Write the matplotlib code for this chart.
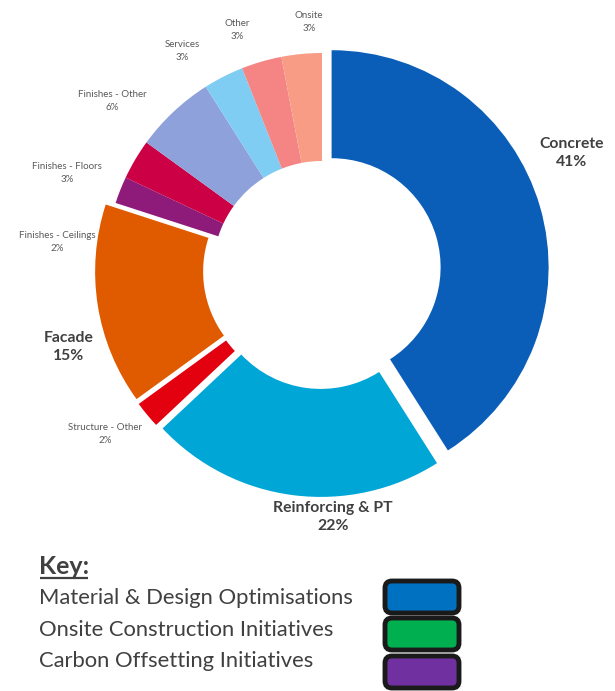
import matplotlib
matplotlib.use("Agg")
import matplotlib.pyplot as plt
from matplotlib.patches import FancyBboxPatch

# ---------------- data ----------------
categories = ["Concrete", "Reinforcing & PT", "Structure - Other", "Facade",
              "Finishes - Ceilings", "Finishes - Floors", "Finishes - Other",
              "Services", "Other", "Onsite"]
values = [41, 22, 2, 15, 2, 3, 6, 3, 3, 3]

key_labels = ["Material & Design Optimisations",
              "Onsite Construction Initiatives",
              "Carbon Offsetting Initiatives"]

# ---------------- styles / layout ----------------
colors = ["#0A5EB8", "#00A6D6", "#E3000F", "#E05A00", "#8E1A7A",
          "#CC0044", "#8EA1DA", "#7FCDF2", "#F58585", "#F99C86"]
exploded = [True, True, True, True, False, False, False, False, False, False]
major = [True, True, False, True, False, False, False, False, False, False]
# label centres in pixel coordinates (x, y from top)
label_pos = [(572, 153), (333, 517), (105, 434), (69, 347), (57, 242),
             (67, 173), (112, 101), (182, 51), (237, 30), (309, 22)]
key_colors = ["#0070C0", "#00B050", "#7030A0"]

W, H = 615, 691
FONT = ["Lato", "DejaVu Sans"]
plt.rcParams["font.family"] = FONT

fig = plt.figure(figsize=(W / 100, H / 100), dpi=100)
ax = fig.add_axes([0, 0, 1, 1])

cx, cy = 322, H - 270
R = 217
ax.pie(values, colors=colors, startangle=90, counterclock=False,
       radius=R, center=(cx, cy),
       explode=[10 if e else 0 for e in exploded],
       wedgeprops=dict(width=108, linewidth=0))
ax.set_xlim(0, W)
ax.set_ylim(0, H)
ax.set_aspect("equal")
ax.axis("off")

for cat, val, (lx, ly), big in zip(categories, values, label_pos, major):
    if big:
        ax.text(lx, H - ly, f"{cat}\n{val}%", ha="center", va="center",
                fontsize=11.3, fontweight="bold", color="#404040",
                linespacing=1.3)
    else:
        ax.text(lx, H - ly, f"{cat}\n{val}%", ha="center", va="center",
                fontsize=7.0, color="#595959", linespacing=1.65)

# ---------------- key ----------------
kt = ax.text(39, H - 567, "Key:", ha="left", va="center", fontsize=18,
             fontweight="bold", color="#404040")
fig.canvas.draw()
bb = kt.get_window_extent(renderer=fig.canvas.get_renderer())
ax.plot([bb.x0 + 1, bb.x1 - 1], [H - 578, H - 578], color="#404040", lw=1.6,
        solid_capstyle="butt")

key_y = [598, 630, 661]
box_top = [581, 618, 656]
for lab, col, ty, bt in zip(key_labels, key_colors, key_y, box_top):
    ax.text(39, H - ty, lab, ha="left", va="center", fontsize=15.8,
            color="#404040")
    ax.add_patch(FancyBboxPatch((385, H - bt - 32), 74, 32,
                                boxstyle="round,pad=0,rounding_size=7",
                                fc=col, ec="#1A1A1A", lw=3.5,
                                clip_on=False))

fig.savefig("out.png", dpi=100)
